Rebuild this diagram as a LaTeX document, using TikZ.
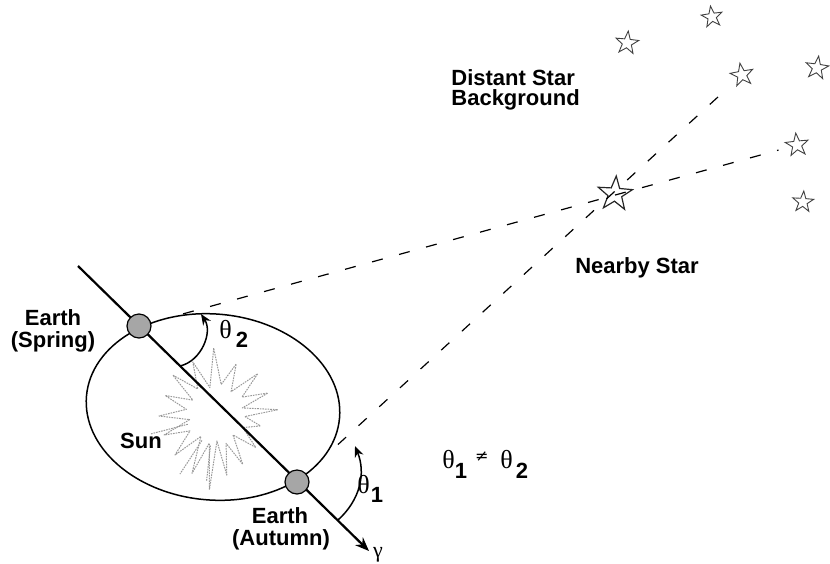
\documentclass[tikz,border=0pt]{standalone}
\usepackage{fontspec}
\setmainfont{Liberation Sans}
\newfontfamily\greekfont{Liberation Serif}
\newfontfamily\symfont{DejaVu Sans}
\usetikzlibrary{arrows.meta,shapes.geometric,calc}

\begin{document}
\begin{tikzpicture}[x=0.5pt,y=-0.5pt,
  lbl/.style={font=\fontsize{11}{11}\selectfont\bfseries, inner sep=0pt},
  glbl/.style={font=\fontsize{13}{13}\selectfont, inner sep=0pt},
  orbit/.style={line width=0.75pt},
  axisline/.style={line width=1.1pt, -{Stealth[length=7pt,width=5.5pt]}},
  sight/.style={line width=0.6pt, dash pattern=on 5.5pt off 8.5pt},
  angarrow/.style={line width=0.75pt, -{Stealth[length=5.5pt,width=4.5pt]}},
  earth/.style={circle, draw, line width=0.6pt, fill=black!35, minimum size=12pt, inner sep=0pt},
  skystar/.style={star, star points=5, star point ratio=2.5, draw=black!75,
                  line width=0.45pt, inner sep=0pt, minimum size=#1},
  sunray/.style={draw=black!40, line width=0.5pt, dash pattern=on 0.8pt off 0.5pt, line join=round}
]
\useasboundingbox (0,0) rectangle (830,563);

% the Sun: an irregular, stippled starburst
\coordinate (sun) at (216,414);
\draw[sunray] ([shift={(sun)}]5:29)
  \foreach \a/\r in {15/46, 27/30, 40/52, 51/27, 62/57, 71/31, 80/62, 88/27, 95/76, 103/30,
                     112/64, 124/27, 135/58, 147/31, 158/56, 168/27, 178/57, 189/30, 200/54,
                     211/27, 222/58, 234/31, 246/57, 257/27, 268/66, 280/30, 292/54, 304/27,
                     316/58, 327/31, 338/56, 347/27, 356/62}
  { -- ([shift={(sun)}]\a:\r) } -- cycle;
% a few loose rays on the lower left
\draw[sunray] ([shift={(sun)}]160:30) -- ([shift={(sun)}]163:68);
\draw[sunray] ([shift={(sun)}]118:30) -- ([shift={(sun)}]121:70);
\draw[sunray] ([shift={(sun)}]100:32) -- ([shift={(sun)}]98:68);

% Earth's orbit, slightly tilted
\draw[orbit, rotate around={-5:(213,407)}] (213,407) ellipse [x radius=63.5pt, y radius=46.5pt];

% stars
\node[skystar=18pt, draw=black!85, line width=0.6pt, rotate=-4] (nearby) at (615,194) {};
\node[skystar=11pt, rotate=8]  (bs1) at (712,17)  {};
\node[skystar=12pt, rotate=-6] (bs2) at (627,43)  {};
\node[skystar=12pt, rotate=10] (bs3) at (742,75)  {};
\node[skystar=12pt, rotate=-8] (bs4) at (817,68)  {};
\node[skystar=12pt, rotate=6]  (bs5) at (797,145) {};
\node[skystar=11pt, rotate=-4] (bs6) at (803,202) {};

% Earth positions
\coordinate (spring) at (139,326);
\coordinate (autumn) at (297,482);

% lines of sight through the nearby star
\coordinate (ls1) at ($(spring)!0.067!(bs5)$);
\coordinate (le1) at ($(spring)!0.972!(bs5)$);
\coordinate (ls2) at ($(autumn)!0.092!(bs3)$);
\coordinate (le2) at ($(autumn)!0.955!(bs3)$);
\draw[sight] (ls1) -- (le1);
\draw[sight] (ls2) -- (le2);

% direction of the vernal equinox
\coordinate (ax0) at (78,266);
\coordinate (ax1) at (369,551);
\draw[axisline] (ax0) -- (ax1);
\node[earth] (espring) at (spring) {};
\node[earth] (eautumn) at (autumn) {};

% measured angles
\coordinate (t2a) at (180,366);
\coordinate (t2b) at (201,314);
\draw[angarrow] (t2a) to[bend right=55] (t2b);
\coordinate (t1a) at (338,520);
\coordinate (t1b) at (355,446);
\draw[angarrow] (t1a) to[bend right=35] (t1b);

% labels
\node[lbl, anchor=base west] (dsb1) at (451,85)  {Distant Star};
\node[lbl, anchor=base west] (dsb2) at (451,105) {Background};
\node[lbl, anchor=base] (near) at (637,273) {Nearby Star};
\node[lbl, anchor=base] (esp1) at (53,325)   {Earth};
\node[lbl, anchor=base] (esp2) at (53,347)   {(Spring)};
\node[lbl, anchor=base] (sunl) at (141,448)  {Sun};
\node[lbl, anchor=base] (eau1) at (280,523)  {Earth};
\node[lbl, anchor=base] (eau2) at (281,545)  {(Autumn)};
\node[glbl, anchor=base west] (th2) at (219,338)
  {\greekfont θ\hspace{2pt}\raisebox{-4.5pt}{\fontsize{11}{11}\selectfont\bfseries\fontspec{Liberation Sans} 2}};
\node[glbl, anchor=base west] (th1) at (357,493)
  {\greekfont θ\hspace{0.5pt}\raisebox{-4.5pt}{\fontsize{11}{11}\selectfont\bfseries\fontspec{Liberation Sans} 1}};
\node[glbl, anchor=base west] (neq) at (442,468)
  {\greekfont θ\hspace{0pt}\raisebox{-5pt}{\fontsize{11}{11}\selectfont\bfseries\fontspec{Liberation Sans} 1}\hspace{4pt}%
   \raisebox{3.5pt}{\symfont\fontsize{8}{8}\selectfont ≠}\hspace{6pt}%
   {\greekfont θ}\hspace{1.5pt}\raisebox{-5pt}{\fontsize{11}{11}\selectfont\bfseries\fontspec{Liberation Sans} 2}};
\node[glbl, anchor=base] (gam) at (378,557) {\greekfont\fontsize{11}{11}\selectfont γ};
\end{tikzpicture}
\end{document}
